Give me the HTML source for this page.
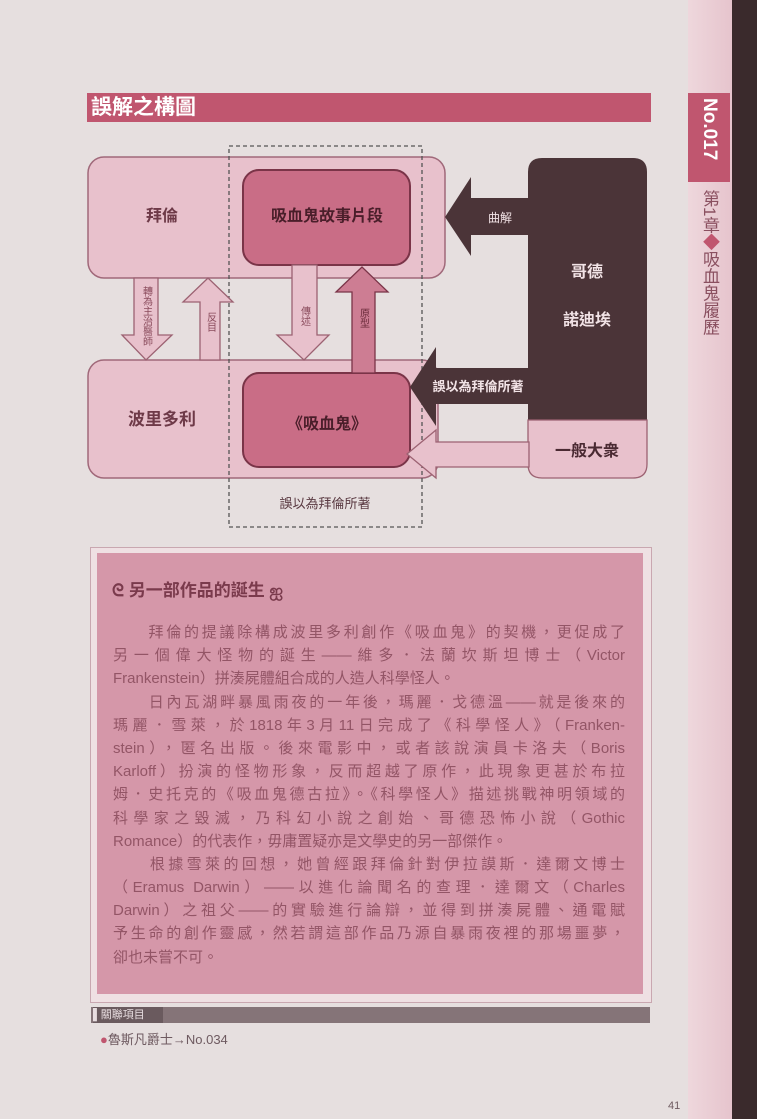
<!DOCTYPE html>
<html><head><meta charset="utf-8"><style>
html,body{margin:0;padding:0;}
body{width:757px;height:1119px;background:#e6dfdf;position:relative;overflow:hidden;font-family:"Liberation Sans","Noto Sans CJK TC",sans-serif;}
.abs{position:absolute;}
.txt{position:absolute;left:113px;width:512px;font-size:15px;line-height:23.2px;color:#935566;top:621px;}
.txt div{height:23.2px;white-space:nowrap;text-align:justify;text-align-last:justify;}
.txt div.last{text-align-last:left;}
</style></head><body>
<!-- right strip -->
<div class="abs" style="left:688px;top:0;width:44px;height:1119px;background:linear-gradient(90deg,#eed7dc,#e6c4cd);"></div>
<div class="abs" style="left:732px;top:0;width:25px;height:1119px;background:#3a2a2c;"></div>
<div class="abs" style="left:688px;top:93px;width:42px;height:89px;background:#c0566f;"></div>
<div class="abs" style="left:690px;top:98px;width:38px;height:80px;color:#fff;font-weight:bold;font-size:19px;writing-mode:vertical-rl;line-height:38px;">No.017</div>
<div class="abs" style="left:697px;top:190px;width:24px;height:160px;color:#8a5060;font-size:17px;writing-mode:vertical-rl;line-height:24px;">第1章<span style="color:#c0566f">◆</span>吸血鬼履歷</div>

<!-- title bar -->
<div class="abs" style="left:87px;top:93px;width:564px;height:29px;background:#c0566f;"></div>
<div class="abs" style="left:91px;top:94px;color:#fff;font-weight:bold;font-size:21px;line-height:27px;">誤解之構圖</div>

<svg class="abs" style="left:0;top:0" width="757" height="560" viewBox="0 0 757 560">
<g font-family="Liberation Sans,Noto Sans CJK TC,sans-serif">
<rect x="88" y="157" width="357" height="121" rx="16" fill="#e8c1cc" stroke="#a0697a" stroke-width="1.5"/>
<rect x="88" y="360" width="350" height="118" rx="16" fill="#e8c1cc" stroke="#a0697a" stroke-width="1.5"/>
<rect x="229" y="146" width="193" height="381" fill="none" stroke="#555" stroke-width="1.3" stroke-dasharray="4,3"/>
<rect x="243" y="170" width="167" height="95" rx="16" fill="#c96d86" stroke="#7a3448" stroke-width="2"/>
<rect x="243" y="373" width="167" height="94" rx="16" fill="#c96d86" stroke="#7a3448" stroke-width="2"/>
<polygon points="134,278 158,278 158,335 172,335 146,360 122,335 134,335" fill="#e8c1cc" stroke="#9c6272" stroke-width="1.3"/>
<polygon points="200,360 220,360 220,302 233,302 208,278 183,302 200,302" fill="#e8c1cc" stroke="#9c6272" stroke-width="1.3"/>
<polygon points="292,265 317,265 317,335 329,335 304,360 277,335 292,335" fill="#e8c1cc" stroke="#9c6272" stroke-width="1.3"/>
<polygon points="352,373 375,373 375,292 388,292 362,267 336,292 352,292" fill="#cd7d93" stroke="#7a3448" stroke-width="1.3"/>
<path d="M528,420 V172 Q528,158 542,158 H633 Q647,158 647,172 V420 Z" fill="#4b3438"/>
<path d="M528,420 H647 V464 Q647,478 633,478 H542 Q528,478 528,464 Z" fill="#e8c1cc" stroke="#9c6272" stroke-width="1.3"/>
<polygon points="529,442 436,442 436,430 407,454 436,478 436,467 529,467" fill="#e8c1cc" stroke="#9c6272" stroke-width="1.3"/>
<polygon points="528,368 436,368 436,347 410,387 436,426 436,404 528,404" fill="#4b3438"/>
<polygon points="528,198 471,198 471,177 445,217 471,256 471,235 528,235" fill="#4b3438"/>
<text x="162" y="221" font-size="16" fill="#6e3a48" font-weight="bold" text-anchor="middle">拜倫</text>
<text x="327" y="221" font-size="16" fill="#4a1e2a" font-weight="bold" text-anchor="middle">吸血鬼故事片段</text>
<text x="162" y="425" font-size="17" fill="#6e3a48" font-weight="bold" text-anchor="middle">波里多利</text>
<text x="327" y="429" font-size="16" fill="#4a1e2a" font-weight="bold" text-anchor="middle">《吸血鬼》</text>
<text x="587" y="277" font-size="16" fill="#f2e3e6" font-weight="bold" text-anchor="middle">哥德</text>
<text x="587" y="325" font-size="16" fill="#f2e3e6" font-weight="bold" text-anchor="middle">諾迪埃</text>
<text x="587" y="456" font-size="16" fill="#4a2a32" font-weight="bold" text-anchor="middle">一般大衆</text>
<text x="500" y="222" font-size="12" fill="#f2e3e6" text-anchor="middle">曲解</text>
<text x="478" y="391" font-size="13" fill="#f2e3e6" font-weight="bold" text-anchor="middle">誤以為拜倫所著</text>
<text x="325" y="508" font-size="13" fill="#5a3a42" text-anchor="middle">誤以為拜倫所著</text>
<text font-size="10" fill="#8a4b5c" writing-mode="tb" x="146" y="286">轉為主治醫師</text>
<text font-size="10" fill="#8a4b5c" writing-mode="tb" x="210" y="312">反目</text>
<text font-size="10" fill="#8a4b5c" writing-mode="tb" x="304" y="306">傳述</text>
<text font-size="10" fill="#6a2a3a" writing-mode="tb" x="363" y="308">原型</text>
</g>
</svg>

<div class="abs" style="left:90px;top:547px;width:560px;height:454px;background:#efe0e3;border:1px solid #c9a7b0;"></div>
<div class="abs" style="left:97px;top:553px;width:546px;height:441px;background:#d597a9;"></div>
<div class="abs" style="left:112px;top:579px;font-size:17px;font-weight:bold;color:#7a3a4c;line-height:24px;">ᘓ 另一部作品的誕生 ஐ</div>
<div class="txt">
<div>　　拜倫的提議除構成波里多利創作《吸血鬼》的契機，更促成了</div>
<div>另一個偉大怪物的誕生——維多．法蘭坎斯坦博士（Victor</div>
<div class="last">Frankenstein）拼湊屍體組合成的人造人科學怪人。</div>
<div>　　日內瓦湖畔暴風雨夜的一年後，瑪麗．戈德溫——就是後來的</div>
<div>瑪麗．雪萊，於1818年3月11日完成了《科學怪人》（Franken-</div>
<div>stein），匿名出版。後來電影中，或者該說演員卡洛夫（Boris</div>
<div>Karloff）扮演的怪物形象，反而超越了原作，此現象更甚於布拉</div>
<div>姆．史托克的《吸血鬼德古拉》。《科學怪人》描述挑戰神明領域的</div>
<div>科學家之毀滅，乃科幻小說之創始、哥德恐怖小說（Gothic</div>
<div class="last">Romance）的代表作，毋庸置疑亦是文學史的另一部傑作。</div>
<div>　　根據雪萊的回想，她曾經跟拜倫針對伊拉謨斯．達爾文博士</div>
<div>（Eramus Darwin）——以進化論聞名的查理．達爾文（Charles</div>
<div>Darwin）之祖父——的實驗進行論辯，並得到拼湊屍體、通電賦</div>
<div>予生命的創作靈感，然若謂這部作品乃源自暴雨夜裡的那場噩夢，</div>
<div class="last">卻也未嘗不可。</div>
</div>

<div class="abs" style="left:91px;top:1007px;width:559px;height:16px;background:#857478;"></div>
<div class="abs" style="left:93px;top:1007px;width:70px;height:16px;background:#6a5a5e;color:#e8dde0;font-size:11px;line-height:16px;">▌關聯項目</div>
<div class="abs" style="left:100px;top:1032px;font-size:13px;color:#6e5a60;line-height:16px;"><span style="color:#c0566f">●</span>魯斯凡爵士→No.034</div>
<div class="abs" style="left:668px;top:1100px;font-size:11px;color:#6e5a60;">41</div>
</body></html>
